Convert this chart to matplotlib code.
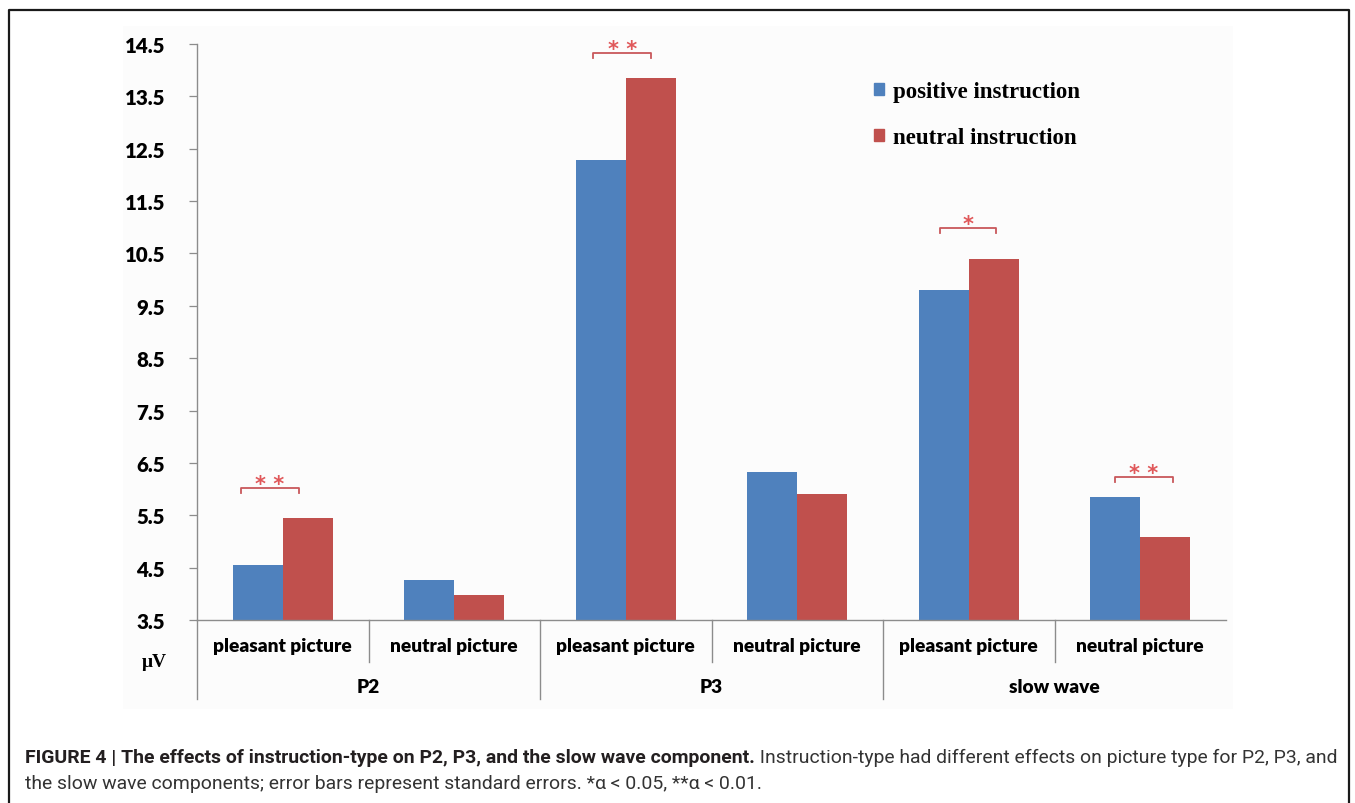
import numpy as np
import matplotlib.pyplot as plt
from matplotlib.lines import Line2D
from matplotlib.patches import Patch, Rectangle

# mean amplitudes (uV) per component / picture type
components = ["P2", "P3", "slow wave"]
pictures = ["pleasant picture", "neutral picture"]
positive = [4.55, 4.26, 12.29, 6.33, 9.80, 5.85]
neutral = [5.45, 3.98, 13.85, 5.91, 10.39, 5.09]
yticks = [3.5, 4.5, 5.5, 6.5, 7.5, 8.5, 9.5, 10.5, 11.5, 12.5, 13.5, 14.5]

# significance marks: (category index, left offset, right offset, height, label)
sig = [(0, -0.245, 0.093, 6.02, "* *"),
       (2, -0.19, 0.15, 14.33, "* *"),
       (4, -0.17, 0.16, 10.99, "*"),
       (5, -0.15, 0.19, 6.23, "* *")]

blue = "#4f81bd"
red = "#c0504d"
spine = "#8c8c8c"
tick_font = "Lato"

W, H = 1355, 804
fig = plt.figure(figsize=(W / 100, H / 100), dpi=100)

# faint panel behind the chart and the black frame around the figure
fig.add_artist(Rectangle((123 / W, 1 - 710 / H), (1233 - 123) / W, (710 - 27) / H,
                         transform=fig.transFigure, facecolor="#fcfcfc",
                         edgecolor="none", zorder=0))
fx0, fx1, fy1 = 9 / W, 1349 / W, 1 - 11 / H
fig.add_artist(Line2D([fx0, fx0, fx1, fx1], [0, fy1, fy1, 0],
                      transform=fig.transFigure, color="#1a1a1a", lw=1.6))

ax = fig.add_axes([197 / W, 1 - 621 / H, (1226 - 197) / W, (621 - 45) / H])
ax.patch.set_alpha(0)

x = np.arange(len(positive))
w = 0.2915
ax.bar(x - w / 2, positive, w, bottom=0, color=blue, label="positive instruction", zorder=2)
ax.bar(x + w / 2, neutral, w, bottom=0, color=red, label="neutral instruction", zorder=2)

ax.set_xlim(-0.5, 5.5)
ax.set_ylim(3.5, 14.5)
ax.set_yticks(yticks)
ax.set_yticklabels([f"{t:.1f}" for t in yticks], fontsize=14.8, fontweight="heavy",
                   family=tick_font)
ax.tick_params(axis="y", length=6, width=0.9, color=spine, pad=17)
ax.set_xticks([])
for s in ["top", "right"]:
    ax.spines[s].set_visible(False)
for s in ["left", "bottom"]:
    ax.spines[s].set_color(spine)
    ax.spines[s].set_linewidth(1.0)

# category and group dividers below the axis
unit = (621 - 45) / 11.0
for xd in [-0.5, 1.5, 3.5]:
    ax.plot([xd, xd], [3.5, 3.5 - 79 / unit], color=spine, lw=1.0, clip_on=False)
for xd in [0.5, 2.5, 4.5]:
    ax.plot([xd, xd], [3.5, 3.5 - 42 / unit], color=spine, lw=1.0, clip_on=False)

for i in range(len(positive)):
    ax.text(i, 3.5 - 26 / unit, pictures[i % 2], ha="center", va="center",
            fontsize=13.8, fontweight="heavy", family=tick_font)
for g, name in enumerate(components):
    ax.text(2 * g + 0.5, 3.5 - 67 / unit, name, ha="center", va="center",
            fontsize=13.8, fontweight="heavy", family=tick_font)
ax.text(-0.75, 3.5 - 42 / unit, "\u03bcV", ha="center", va="center",
        fontsize=14, fontweight="bold", family="Liberation Serif")

# significance brackets
for i, l, r, h, lab in sig:
    d = 5 / unit
    ax.plot([i + l, i + l, i + r, i + r], [h - d, h, h, h - d],
            color="#c9585b", lw=1.3, zorder=3)
    ax.text(i + (l + r) / 2, h + 4 / unit, lab, ha="center", va="center",
            color="#e0585a", fontsize=15, fontweight="bold", family="DejaVu Sans")

leg = ax.legend(handles=[Patch(color=blue), Patch(color=red)],
                labels=["positive instruction", "neutral instruction"],
                loc="upper left", bbox_to_anchor=(874 / W, 1 - 82 / H),
                bbox_transform=fig.transFigure, frameon=False,
                handlelength=0.45, handleheight=0.45, handletextpad=0.4,
                labelspacing=1.1, borderpad=0, borderaxespad=0,
                prop={"family": "Liberation Serif", "weight": "bold", "size": 16.5})

# caption: bold lead-in followed by plain text
cap_bold = "FIGURE 4 | The effects of instruction-type on P2, P3, and the slow wave component."
cap_rest = " Instruction-type had different effects on picture type for P2, P3, and"
cap_line2 = "the slow wave components; error bars represent standard errors. *\u03b1 < 0.05, **\u03b1 < 0.01."
cap_font = "Roboto"
cap_size = 13.95
t1 = fig.text(25 / W, 1 - 758 / H, cap_bold, fontsize=cap_size, fontweight="bold",
              family=cap_font, va="center", color="#231f20")
fig.canvas.draw()
bb = t1.get_window_extent()
fig.text(bb.x1 / W, 1 - 758 / H, cap_rest, fontsize=cap_size, family=cap_font,
         va="center", color="#333333")
fig.text(25 / W, 1 - 784 / H, cap_line2, fontsize=cap_size, family=cap_font,
         va="center", color="#333333")

fig.savefig("out.png", dpi=100)
